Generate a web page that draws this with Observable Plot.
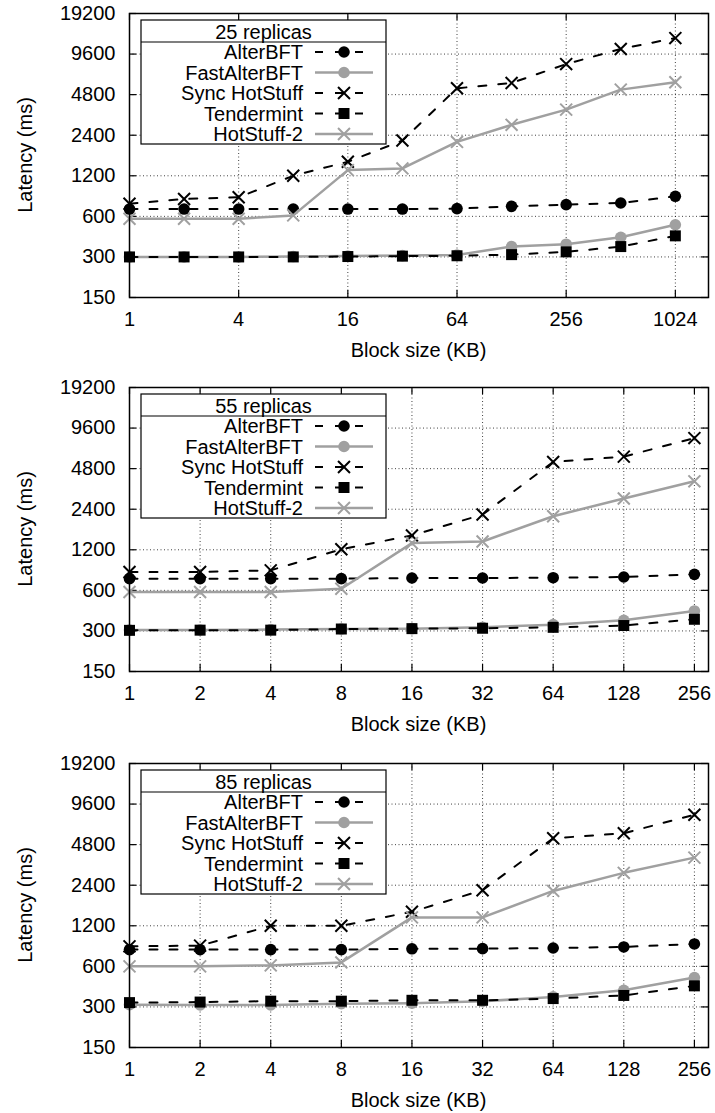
<!DOCTYPE html>
<html><head><meta charset="utf-8">
<script src="https://cdn.jsdelivr.net/npm/d3@7"></script>
<script src="https://cdn.jsdelivr.net/npm/@observablehq/plot@0.6"></script>
<style>
body{margin:0;background:#fff;font-family:"Liberation Sans",Arial,sans-serif;}
#wrap{position:relative;width:715px;height:1113px;overflow:hidden;}
.panel{position:absolute;left:0;}
</style></head><body><div id="wrap"></div>
<script>
const seriesNames = ["AlterBFT", "FastAlterBFT", "Sync HotStuff", "Tendermint", "HotStuff-2"];
const panelTitles = ["25 replicas", "55 replicas", "85 replicas"];
const xLabel = "Block size (KB)";
const yLabel = "Latency (ms)";

const blockSizes25 = [1, 2, 4, 8, 16, 32, 64, 128, 256, 512, 1024];
const blockSizes55 = [1, 2, 4, 8, 16, 32, 64, 128, 256];
const blockSizes85 = [1, 2, 4, 8, 16, 32, 64, 128, 256];
const xTicks25 = [1, 4, 16, 64, 256, 1024];
const xTicks55 = [1, 2, 4, 8, 16, 32, 64, 128, 256];
const xTicks85 = [1, 2, 4, 8, 16, 32, 64, 128, 256];
const yTicks = [150, 300, 600, 1200, 2400, 4800, 9600, 19200];

// 25 replicas
const alter25  = [680, 680, 680, 680, 680, 680, 685, 712, 733, 754, 845];
const fast25   = [300, 300, 300, 302, 305, 307, 310, 358, 373, 420, 520];
const sync25   = [745, 807, 831, 1200, 1525, 2191, 5350, 5860, 8090, 10470, 12620];
const tender25 = [300, 300, 300, 300, 302, 304, 306, 312, 327, 358, 430];
const hs2_25   = [576, 576, 576, 610, 1322, 1361, 2141, 2866, 3716, 5230, 5930];

// 55 replicas
const alter55  = [733, 733, 733, 733, 741, 741, 745, 754, 789];
const fast55   = [305, 305, 307, 310, 312, 319, 334, 360, 422];
const sync55   = [821, 821, 845, 1210, 1533, 2191, 5380, 5895, 8090];
const tender55 = [303, 304, 304, 310, 312, 314, 319, 329, 366];
const hs2_55   = [583, 583, 583, 617, 1345, 1383, 2130, 2880, 3865];

// 85 replicas
const alter85  = [799, 799, 799, 799, 810, 812, 821, 836, 880];
const fast85   = [312, 310, 310, 317, 320, 330, 356, 399, 496];
const sync85   = [845, 855, 1200, 1200, 1525, 2204, 5350, 5830, 8000];
const tender85 = [323, 326, 331, 331, 336, 336, 346, 365, 430];
const hs2_85   = [600, 600, 610, 642, 1385, 1385, 2177, 2965, 3845];

const xMax25 = 1560;
const xMax55 = 294;
const xMax85 = 294;

const GRAY = "#a0a0a0";
const DASH = "8,12";
const styles = [
  {stroke: "#000", dash: DASH, symbol: "circle", r: 5.8, filled: true, width: 2},
  {stroke: GRAY, dash: null, symbol: "circle", r: 5.8, filled: true, width: 2.5},
  {stroke: "#000", dash: DASH, symbol: "times", r: 5.5, filled: false, width: 2},
  {stroke: "#000", dash: DASH, symbol: "square", r: 6.2, filled: true, width: 2},
  {stroke: GRAY, dash: null, symbol: "times", r: 5.5, filled: false, width: 2.5}
];

const panels = [
  {title: panelTitles[0], xs: blockSizes25, ticks: xTicks25, xMax: xMax25, series: [alter25, fast25, sync25, tender25, hs2_25]},
  {title: panelTitles[1], xs: blockSizes55, ticks: xTicks55, xMax: xMax55, series: [alter55, fast55, sync55, tender55, hs2_55]},
  {title: panelTitles[2], xs: blockSizes85, ticks: xTicks85, xMax: xMax85, series: [alter85, fast85, sync85, tender85, hs2_85]}
];

const W = 715, H = 373, ML = 129, MR = 7, MT = 13, MB = 76;
const PW = W - ML - MR, PH = H - MT - MB;
const panelTops = [0, 374, 750];
const FONT = "'Liberation Sans', Arial, Helvetica, sans-serif";

panels.forEach((p, pi) => {
  const marks = [
    Plot.gridX(p.ticks, {stroke: "#000", strokeOpacity: 0.75, strokeDasharray: "1,2.5", strokeWidth: 1}),
    Plot.gridY(yTicks, {stroke: "#000", strokeOpacity: 0.75, strokeDasharray: "1,2.5", strokeWidth: 1}),
    Plot.axisX(p.ticks, {tickSize: 0, tickPadding: 14, tickFormat: d => String(d), label: null, fontSize: 20}),
    Plot.axisY(yTicks, {tickSize: 0, tickPadding: 14, tickFormat: d => String(d), label: null, fontSize: 20}),
    Plot.tickX(p.ticks, {x: d => d, insetTop: PH - 7, stroke: "#000", strokeWidth: 1.2}),
    Plot.tickX(p.ticks, {x: d => d, insetBottom: PH - 7, stroke: "#000", strokeWidth: 1.2}),
    Plot.tickY(yTicks, {y: d => d, insetRight: PW - 7, stroke: "#000", strokeWidth: 1.2}),
    Plot.tickY(yTicks, {y: d => d, insetLeft: PW - 7, stroke: "#000", strokeWidth: 1.2})
  ];
  p.series.forEach((vals, si) => {
    const s = styles[si];
    const rows = vals.map((v, i) => ({x: p.xs[i], y: v}));
    marks.push(Plot.line(rows, {x: "x", y: "y", stroke: s.stroke, strokeWidth: s.width, strokeDasharray: s.dash || undefined}));
    if (s.filled) {
      marks.push(Plot.dot(rows, {x: "x", y: "y", symbol: s.symbol, r: s.r, fill: s.stroke, stroke: "none"}));
    } else {
      marks.push(Plot.dot(rows, {x: "x", y: "y", symbol: s.symbol, r: s.r, stroke: s.stroke, strokeWidth: 2, fill: "none"}));
    }
  });
  marks.push(Plot.frame({stroke: "#000", strokeWidth: 1.5}));

  const chart = Plot.plot({
    width: W, height: H,
    marginLeft: ML, marginRight: MR, marginTop: MT, marginBottom: MB,
    style: {fontFamily: FONT, fontSize: "20px", color: "#000", background: "#fff", overflow: "visible"},
    x: {type: "log", base: 2, domain: [1, p.xMax], axis: null},
    y: {type: "log", base: 2, domain: [150, 19200], axis: null},
    marks
  });

  const div = document.createElement("div");
  div.className = "panel";
  div.style.top = panelTops[pi] + "px";
  div.appendChild(chart);
  document.getElementById("wrap").appendChild(div);

  const svg = d3.select(chart);
  // axis labels
  svg.append("text")
    .attr("transform", `translate(25,${MT + PH / 2}) rotate(-90)`)
    .attr("text-anchor", "middle").attr("dominant-baseline", "central")
    .attr("font-size", 20).attr("font-family", FONT).attr("fill", "#000")
    .text(yLabel);
  svg.append("text")
    .attr("x", ML + PW / 2).attr("y", MT + PH + 53)
    .attr("text-anchor", "middle").attr("dominant-baseline", "central")
    .attr("font-size", 20).attr("font-family", FONT).attr("fill", "#000")
    .text(xLabel);

  // legend box
  const lg = svg.append("g").attr("transform", `translate(${ML + 12},${MT + 7})`)
    .attr("font-family", FONT).attr("font-size", 20);
  const LW = 245, LH = 124;
  lg.append("rect").attr("width", LW).attr("height", LH).attr("fill", "#fff").attr("stroke", "#000").attr("stroke-width", 1.2);
  lg.append("line").attr("x1", 0).attr("x2", LW).attr("y1", 22).attr("y2", 22).attr("stroke", "#000").attr("stroke-width", 1.2);
  lg.append("text").attr("x", LW / 2).attr("y", 11.5).attr("text-anchor", "middle").attr("dominant-baseline", "central").attr("fill", "#000").text(p.title);
  seriesNames.forEach((name, si) => {
    const s = styles[si];
    const y = 32 + si * 20.5;
    lg.append("text").attr("x", 162).attr("y", y).attr("text-anchor", "end").attr("dominant-baseline", "central").attr("fill", "#000").text(name);
    const ln = lg.append("line").attr("x1", 174).attr("x2", 232).attr("y1", y).attr("y2", y)
      .attr("stroke", s.stroke).attr("stroke-width", s.width);
    if (s.dash) ln.attr("stroke-dasharray", s.dash);
    const symType = s.symbol === "circle" ? d3.symbolCircle : s.symbol === "square" ? d3.symbolSquare : d3.symbolTimes;
    const path = lg.append("path").attr("transform", `translate(203,${y})`)
      .attr("d", d3.symbol(symType, Math.PI * s.r * s.r)());
    if (s.filled) path.attr("fill", s.stroke).attr("stroke", "none");
    else path.attr("fill", "none").attr("stroke", s.stroke).attr("stroke-width", 2);
  });
});
</script></body></html>
